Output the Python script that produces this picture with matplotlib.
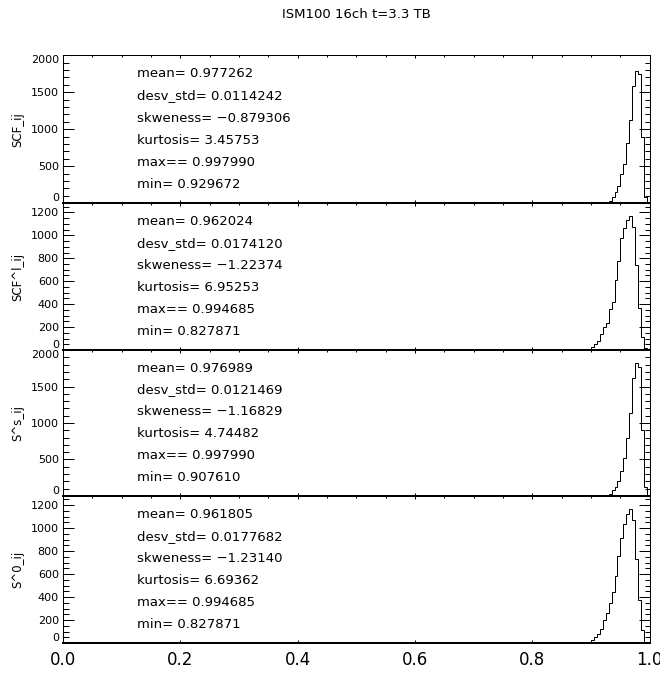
import numpy as np
import matplotlib
matplotlib.use("Agg")
import matplotlib.pyplot as plt
from matplotlib.ticker import MultipleLocator

plt.rcParams["font.family"] = ["DejaVu Sans"]

title = "ISM100 16ch t=3.3 TB"
ylabels = ["SCF_ij", "SCF^l_ij", "S^s_ij", "S^0_ij"]

# histograms, bin width 0.005 on [0, 1]; each list starts at its first non-empty bin
bin_width = 0.005
h_start = [0.925, 0.880, 0.905, 0.880]
h_scf = [8, 30, 85, 150, 230, 390, 530, 810, 1120, 1590, 1790, 1750, 890, 85, 5]
h_scfl = [1, 3, 6, 12, 25, 52, 82, 140, 198, 233, 355, 422, 612, 780, 976,
          1066, 1136, 1171, 1072, 743, 364, 117, 15]
h_ss = [2, 4, 6, 10, 15, 27, 82, 128, 211, 347, 516, 790, 1142, 1612, 1818,
        1772, 905, 128, 14]
h_s0 = [1, 3, 6, 12, 26, 55, 79, 120, 201, 265, 347, 440, 580, 760, 915,
        1040, 1119, 1163, 1069, 732, 376, 114, 5]
hists = [h_scf, h_scfl, h_ss, h_s0]

ymax = [2000, 1280, 2000, 1280]
ymajor = [500, 200, 500, 200]
yminor = [100, 50, 100, 50]

mean = ["0.977262", "0.962024", "0.976989", "0.961805"]
std = ["0.0114242", "0.0174120", "0.0121469", "0.0177682"]
skew = ["\u22120.879306", "\u22121.22374", "\u22121.16829", "\u22121.23140"]
kurt = ["3.45753", "6.95253", "4.74482", "6.69362"]
vmax = ["0.997990", "0.994685", "0.997990", "0.994685"]
vmin = ["0.929672", "0.827871", "0.907610", "0.827871"]

fig = plt.figure(figsize=(6.6, 6.74), dpi=100)
left, width = 0.0955, 0.889
tops = [0.918, 0.6984, 0.4807, 0.2641, 0.046]

edges = np.linspace(0.0, 1.0, 201)
px = 72.0 / fig.dpi

for k in range(4):
    ax = fig.add_axes([left, tops[k + 1], width, tops[k] - tops[k + 1]])
    counts = np.zeros(200)
    i0 = int(round(h_start[k] / bin_width))
    counts[i0:i0 + len(hists[k])] = hists[k]
    ax.stairs(counts, edges, color="k", lw=1.0 * px, clip_on=False)

    ax.set_xlim(0, 1)
    ax.set_ylim(0, ymax[k])
    ax.xaxis.set_major_locator(MultipleLocator(0.2))
    ax.xaxis.set_minor_locator(MultipleLocator(0.05))
    ax.yaxis.set_major_locator(MultipleLocator(ymajor[k]))
    ax.yaxis.set_minor_locator(MultipleLocator(yminor[k]))
    ax.tick_params(which="both", direction="in", top=True, right=True,
                   width=1.0 * px, colors="k")
    ax.tick_params(axis="y", which="major", length=11 * px, labelsize=8, pad=3)
    ax.tick_params(axis="y", which="minor", length=5.5 * px)
    ax.tick_params(axis="x", which="major", length=3 * px, labelsize=12, pad=6)
    ax.tick_params(axis="x", which="minor", length=1.5 * px)
    for s in ax.spines.values():
        s.set_linewidth(1.0 * px)
    ax.spines["bottom"].set_linewidth(2.0 * px)

    if k < 3:
        ax.tick_params(axis="x", labelbottom=False)
    else:
        ax.set_xticks(np.arange(0, 1.01, 0.2))
        ax.set_xticklabels([f"{v:.1f}" for v in np.arange(0, 1.01, 0.2)])

    yt = np.arange(0, ymax[k] + 1, ymajor[k])
    ax.set_yticks(yt)
    ax.set_yticklabels([str(int(v)) for v in yt])
    labs = ax.get_yticklabels()
    labs[0].set_va("bottom")
    if yt[-1] == ymax[k]:
        labs[-1].set_va("top")

    ax.set_ylabel(ylabels[k], fontsize=8.5, labelpad=0)
    ax.yaxis.set_label_coords(-0.066, 0.5)

    rows = ["mean= " + mean[k],
            "desv_std= " + std[k],
            "skweness= " + skew[k],
            "kurtosis= " + kurt[k],
            "max== " + vmax[k],
            "min= " + vmin[k]]
    for j, txt in enumerate(rows):
        ax.text(0.126, 0.876 - 0.15 * j, txt, transform=ax.transAxes,
                fontsize=9.5, va="center", ha="left")

fig.text(0.54, 1 - 15 / 674, title, ha="center", va="center", fontsize=9.5)
fig.savefig("out.png", dpi=100)
